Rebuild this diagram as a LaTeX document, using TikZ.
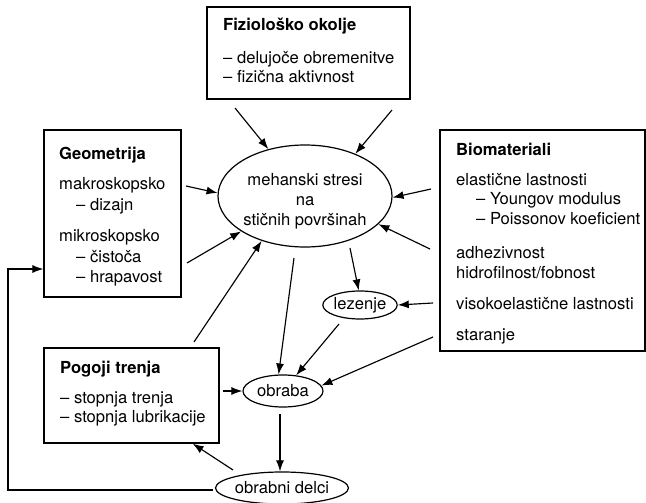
\documentclass[tikz,border=0pt]{standalone}
\usepackage{fontspec}
\setmainfont{TeX Gyre Heros}
\usetikzlibrary{shapes.geometric,arrows.meta,calc}
\begin{document}
\begin{tikzpicture}[x=1pt,y=-1pt,
  every node/.style={font=\fontsize{16.6}{20}\selectfont},
  box/.style={draw, line width=1.2pt, rectangle, inner sep=0pt},
  ell/.style={draw, line width=1.2pt, ellipse, inner sep=0pt},
  txt/.style={anchor=base west, inner sep=0pt},
  ttl/.style={anchor=base west, inner sep=0pt, font=\fontsize{16.6}{20}\selectfont\bfseries},
  arr/.style={-{Latex[length=11pt,width=8pt]}, line width=1.15pt}
]
\useasboundingbox (0,0) rectangle (646,503);

% boxes
\node[box, minimum width=203pt, minimum height=92pt] (fiz) at (308.5,53) {};
\node[box, minimum width=137pt, minimum height=167pt] (geo) at (112.5,213.5) {};
\node[box, minimum width=205pt, minimum height=221pt] (bio) at (542.5,240.5) {};
\node[box, minimum width=175pt, minimum height=95pt] (pog) at (131.5,395.5) {};

% box texts
\node[ttl] (fizt) at (223,31) {Fiziološko okolje};
\node[txt] (fiz1) at (223,64) {-- delujoče obremenitve};
\node[txt] (fiz2) at (223,83) {-- fizična aktivnost};

\node[ttl] (geot) at (59,159) {Geometrija};
\node[txt] (geo1) at (59,189) {makroskopsko};
\node[txt] (geo2) at (76,210) {-- dizajn};
\node[txt] (geo3) at (59,241) {mikroskopsko};
\node[txt] (geo4) at (76,262) {-- čistoča};
\node[txt] (geo5) at (76,282) {-- hrapavost};

\node[ttl] (biot) at (456,155) {Biomateriali};
\node[txt] (bio1) at (456,185) {elastične lastnosti};
\node[txt] (bio2) at (476,204) {-- Youngov modulus};
\node[txt] (bio3) at (476,224) {-- Poissonov koeficient};
\node[txt] (bio4) at (456,258) {adhezivnost};
\node[txt] (bio5) at (456,278) {hidrofilnost/fobnost};
\node[txt] (bio6) at (456,309) {visokoelastične lastnosti};
\node[txt] (bio7) at (456,340) {staranje};

\node[ttl] (pogt) at (60,373) {Pogoji trenja};
\node[txt] (pog1) at (60,403) {-- stopnja trenja};
\node[txt] (pog2) at (60,422) {-- stopnja lubrikacije};

% ellipses
\node[ell, minimum width=174pt, minimum height=102pt] (mech) at (305,196) {};
\node[inner sep=0pt, align=center] (mecht) at (305,201) {mehanski stresi\\na\\stičnih površinah};
\node[ell, minimum width=72pt, minimum height=28pt] (lez) at (360,305) {lezenje};
\node[ell, minimum width=80pt, minimum height=32pt] (obr) at (283,391) {obraba};
\node[ell, minimum width=114pt, minimum height=32pt] (del) at (282,488) {obrabni delci};

% arrow starts
\coordinate (a1) at (235,108);
\coordinate (a2) at (392,110);
\coordinate (a3) at (186,186);
\coordinate (a4) at (187,263);
\coordinate (a5) at (194,342);
\coordinate (a6) at (431,189);
\coordinate (a7) at (430,249);
\coordinate (a8) at (294,258);
\coordinate (a9) at (350,248);
\coordinate (a10) at (433,303);
\coordinate (a11) at (339,324);
\coordinate (a12) at (433,337);
\coordinate (a13) at (223,391);
\coordinate (a14) at (280,414);
\coordinate (a15) at (233,470);
\coordinate (a16) at (213,490);
\coordinate (lp) at (8,269);

\draw[arr] (a1) -- (mech.128);
\draw[arr] (a2) -- (mech.40);
\draw[arr] (a3) -- (mech.178);
\draw[arr] (a4) -- (mech.209);
\draw[arr] (a5) -- (mech.226);
\draw[arr] (a6) -- (mech.-1);
\draw[arr] (a7) -- (mech.339);
\draw[arr] (a8) -- (obr.105);
\draw[arr] (a9) -- (lez.95);
\draw[arr] (a10) -- (lez.east);
\draw[arr] (a11) -- (obr.50);
\draw[arr] (a12) -- (obr.8);
\draw[arr] (a13) -- (obr.west);
\draw[arr] (a14) -- (a14 |- del.north);
\draw[arr] (a15) -- ($(pog.south west)!0.847!(pog.south east)$);
\draw[arr] (a16) -| (lp) -- (lp -| geo.west);
\end{tikzpicture}
\end{document}
